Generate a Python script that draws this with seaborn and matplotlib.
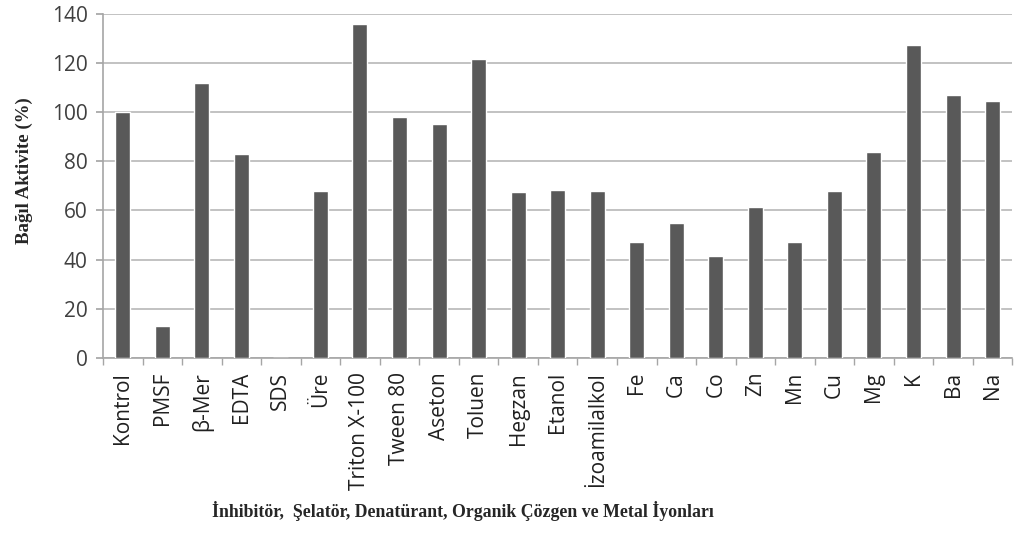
import matplotlib
matplotlib.use("Agg")
import matplotlib.pyplot as plt
import seaborn as sns
import pandas as pd
import numpy as np

categories = ["Kontrol", "PMSF", "β-Mer", "EDTA", "SDS", "Üre", "Triton X-100",
              "Tween 80", "Aseton", "Toluen", "Hegzan", "Etanol", "İzoamilalkol",
              "Fe", "Ca", "Co", "Zn", "Mn", "Cu", "Mg", "K", "Ba", "Na"]
activity = [100, 13, 112, 83, 0, 68, 136, 98, 95, 121.5, 67.5, 68.5, 68,
            47, 55, 41.5, 61.5, 47, 68, 84, 127.5, 107, 104.5]

df = pd.DataFrame({"cat": categories, "val": activity})

sns.set_theme(style="white")
plt.rcParams["font.family"] = ["Open Sans", "DejaVu Sans"]

fig = plt.figure(figsize=(10.33, 5.35), dpi=100)
ax = fig.add_axes([0.0997, 0.331, 0.8803, 0.643])

sns.barplot(data=df, x="cat", y="val", color="#595959", width=0.38,
            saturation=1, ax=ax, zorder=3)

ax.set_xlim(-0.5, len(categories) - 0.5)
ax.set_ylim(0, 140)
ax.set_yticks(np.arange(0, 141, 20))
ax.yaxis.grid(True, color="#b8b8b8", linewidth=1.2, zorder=0)
ax.set_axisbelow(True)

for s in ["top", "right"]:
    ax.spines[s].set_visible(False)
for s in ["left", "bottom"]:
    ax.spines[s].set_color("#a6a6a6")
    ax.spines[s].set_linewidth(1.2)

ax.tick_params(axis="y", which="major", length=5, color="#a6a6a6",
               labelsize=15, labelcolor="#404040", pad=6, left=True)
ax.set_xticks(range(len(categories)))
ax.set_xticklabels(categories, rotation=90, fontsize=15, color="#202020")
ax.tick_params(axis="x", which="major", length=0, pad=10)
ax.set_xticks(np.arange(-0.5, len(categories), 1), minor=True)
ax.tick_params(axis="x", which="minor", length=5, color="#a6a6a6", bottom=True)

ax.set_ylabel("Bağıl Aktivite (%)", fontsize=13.6, fontweight="bold",
              family=["Liberation Serif", "DejaVu Serif"])
ax.yaxis.set_label_coords(-0.077, 0.544)
ax.set_xlabel("İnhibitör,  Şelatör, Denatürant, Organik Çözgen ve Metal İyonları",
              fontsize=12.8, fontweight="bold",
              family=["Liberation Serif", "DejaVu Serif"])
ax.xaxis.set_label_coords(0.396, -0.415)

fig.savefig("out.png", dpi=100, facecolor="white")
